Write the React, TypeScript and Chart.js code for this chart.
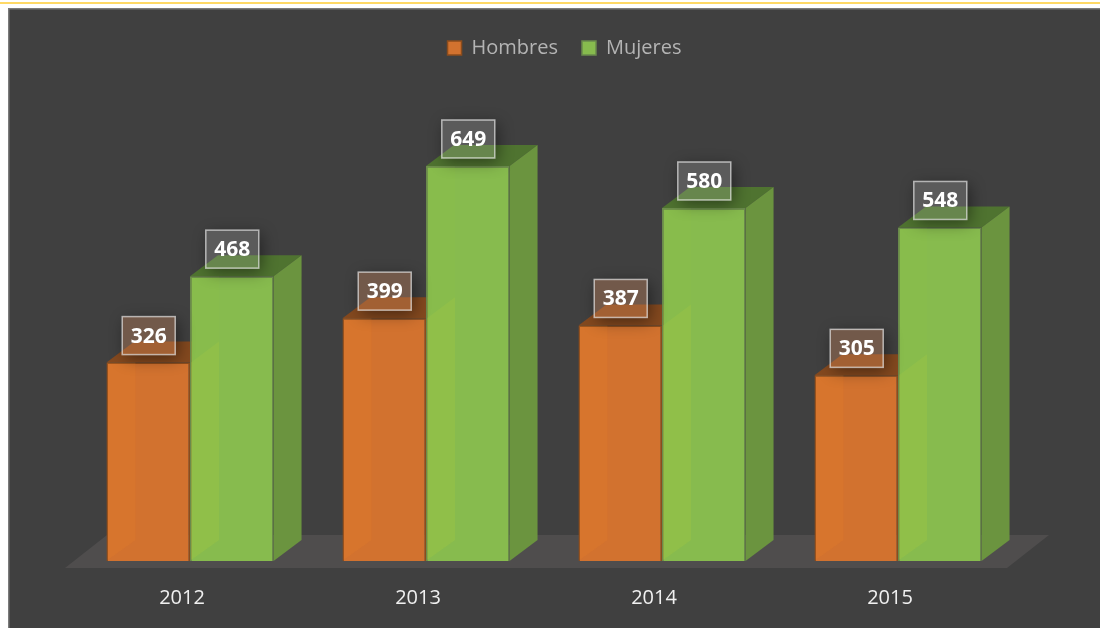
import React, { useEffect, useRef } from "react";
import { Chart, registerables } from "chart.js";

Chart.register(...registerables);

const categories = ["2012", "2013", "2014", "2015"];
const hombres = [326, 399, 387, 305];
const mujeres = [468, 649, 580, 548];

const FONT = '"Open Sans", sans-serif';
const DX = 28;
const DY = 21;

const faces = [
  { top: "#84491f", side: "#8a4f22", wall: "rgba(235,130,40,0.2)", through: "rgba(178,205,62,0.2)", label: "rgba(232,150,100,0.3)" },
  { top: "#4f7330", side: "#6b943f", wall: "rgba(150,200,70,0.08)", through: "rgba(0,0,0,0)", label: "rgba(255,255,255,0.14)" },
];

function poly(ctx: CanvasRenderingContext2D, pts: number[][], fill: string) {
  ctx.beginPath();
  pts.forEach((p, i) => (i ? ctx.lineTo(p[0], p[1]) : ctx.moveTo(p[0], p[1])));
  ctx.closePath();
  ctx.fillStyle = fill;
  ctx.fill();
}

const scene = {
  id: "scene",
  afterLayout(chart: any) {
    chart.legend.left += 20.5;
    chart.legend.right += 20.5;
  },
  beforeDraw(chart: any) {
    const ctx = chart.ctx as CanvasRenderingContext2D;
    ctx.save();
    ctx.fillStyle = "#ffffff";
    ctx.fillRect(0, 0, chart.width, chart.height);
    ctx.fillStyle = "#ffd966";
    ctx.fillRect(0, 2, chart.width, 2);
    ctx.fillStyle = "#7b7b7b";
    ctx.fillRect(8, 8, chart.width - 8, chart.height - 8);
    ctx.fillStyle = "#404040";
    ctx.fillRect(9.5, 9.5, chart.width - 9.5, chart.height - 9.5);
    ctx.restore();
  },
  beforeDatasetsDraw(chart: any) {
    const ctx = chart.ctx as CanvasRenderingContext2D;
    const area = chart.chartArea;
    const base = chart.scales.y.getPixelForValue(0);
    ctx.save();
    poly(
      ctx,
      [
        [area.left - 7, base + 7],
        [area.left + 35, base - 26],
        [area.right + 33, base - 26],
        [area.right - 9, base + 7],
      ],
      "#4f4d4d"
    );
    chart.data.datasets.forEach((_: any, d: number) => {
      chart.getDatasetMeta(d).data.forEach((bar: any) => {
        const l = bar.x - bar.width / 2;
        const r = bar.x + bar.width / 2;
        poly(ctx, [[l, bar.y], [l + DX, bar.y - DY], [r + DX, bar.y - DY], [r, bar.y]], faces[d].top);
        poly(ctx, [[r, bar.y], [r + DX, bar.y - DY], [r + DX, bar.base - DY], [r, bar.base]], faces[d].side);
      });
    });
    ctx.restore();
  },
  afterDatasetsDraw(chart: any) {
    const ctx = chart.ctx as CanvasRenderingContext2D;
    ctx.save();
    // see-through walls of the translucent boxes
    chart.data.datasets.forEach((_: any, d: number) => {
      chart.getDatasetMeta(d).data.forEach((bar: any) => {
        const l = bar.x - bar.width / 2 + 1;
        const r = bar.x + bar.width / 2;
        poly(ctx, [[l, bar.y], [l + DX, bar.y], [l + DX, bar.base - DY], [l, bar.base - 1]], faces[d].wall);
        poly(ctx, [[r + 1, bar.y], [r + 1 + DX, bar.y - DY], [r + 1 + DX, bar.base - DY], [r + 1, bar.base - 1]], faces[d].through);
      });
    });
    // value labels
    const w = 53;
    const h = 38;
    chart.data.datasets.forEach((ds: any, d: number) => {
      chart.getDatasetMeta(d).data.forEach((bar: any, i: number) => {
        const x = bar.x - w / 2 + 0.5;
        const y = bar.y - 46;
        ctx.save();
        ctx.beginPath();
        ctx.rect(0, 0, chart.width, chart.height);
        ctx.rect(x, y, w, h);
        ctx.clip("evenodd");
        ctx.shadowColor = "rgba(0,0,0,0.45)";
        ctx.shadowBlur = 16;
        ctx.shadowOffsetX = 3;
        ctx.shadowOffsetY = 4;
        ctx.fillStyle = "#000";
        ctx.fillRect(x, y, w, h);
        ctx.restore();
        ctx.fillStyle = faces[d].label;
        ctx.fillRect(x, y, w, h);
        ctx.strokeStyle = "rgba(255,255,255,0.62)";
        ctx.lineWidth = 1.5;
        ctx.strokeRect(x, y, w, h);
        ctx.fillStyle = "#ffffff";
        ctx.font = `bold 21px ${FONT}`;
        ctx.textAlign = "center";
        ctx.textBaseline = "middle";
        ctx.fillText(String(ds.data[i]), x + w / 2, y + h / 2 + 1);
      });
    });
    ctx.restore();
  },
};

export default function App() {
  const ref = useRef<HTMLCanvasElement>(null);
  useEffect(() => {
    const chart = new Chart(ref.current!, {
      type: "bar",
      data: {
        labels: categories,
        datasets: [
          {
            label: "Hombres",
            data: hombres,
            backgroundColor: "#d2722f",
            borderColor: "#8c4c1c",
            borderWidth: 1.5,
            categoryPercentage: 0.708,
            barPercentage: 1,
          },
          {
            label: "Mujeres",
            data: mujeres,
            backgroundColor: "#87bb4e",
            borderColor: "#6a8a4c",
            borderWidth: 1.5,
            categoryPercentage: 0.708,
            barPercentage: 1,
          },
        ],
      },
      options: {
        responsive: false,
        animation: false,
        layout: { padding: { top: 14, left: 72, right: 84, bottom: 0 } },
        plugins: {
          tooltip: { enabled: false },
          legend: {
            position: "top",
            labels: {
              color: "#b4b4b4",
              font: { family: FONT, size: 20 },
              boxWidth: 14,
              boxHeight: 14,
              padding: 24,
            },
          },
        },
        scales: {
          x: {
            grid: { display: false },
            border: { display: false },
            afterFit: (s: any) => {
              s.height = 67;
            },
            ticks: {
              color: "#f0f0f0",
              font: { family: FONT, size: 20 },
              labelOffset: -8,
              padding: 17,
              maxRotation: 0,
            },
          },
          y: { display: false, min: 0, max: 810, grid: { display: false } },
        },
      },
      plugins: [scene],
    } as any);
    return () => chart.destroy();
  }, []);
  return (
    <div style={{ position: "fixed", left: 0, top: 0 }}>
      <canvas ref={ref} width={1100} height={628} style={{ display: "block" }} />
    </div>
  );
}
